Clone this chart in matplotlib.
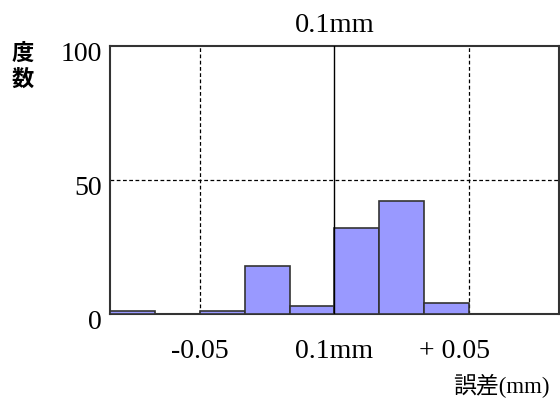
import numpy as np
import matplotlib
matplotlib.use("Agg")
import matplotlib.pyplot as plt
from matplotlib.transforms import ScaledTranslation

# histogram of error, 10 bins, centre = 0.1mm target
counts = [1, 0, 1, 18, 3, 32, 42, 4, 0, 0]
xtick_pos = [2, 5, 7.67]
xtick_labels = ['-0.05', '0.1mm', '+ 0.05']
ytick_vals = [0, 50, 100]

serif = ['Liberation Serif', 'Noto Sans CJK JP']
bar_color = '#9999ff'
edge = '#333333'

fig = plt.figure(figsize=(5.6, 4.01), dpi=100)
ax = fig.add_axes([0.1964, 0.217, 0.8016, 0.668])

x = np.arange(len(counts))
ax.bar(x, counts, width=1.0, align='edge', color=bar_color,
       edgecolor=edge, linewidth=1.2, zorder=3)

ax.set_xlim(0, len(counts))
ax.set_ylim(0, 100)

# reference lines
ax.axhline(50, color='black', linestyle=(0, (3, 2)), linewidth=0.9, zorder=1)
for xv in [2, 8]:
    ax.axvline(xv, color='black', linestyle=(0, (3, 2)), linewidth=0.9, zorder=1)
ax.axvline(5, color='black', linewidth=1.0, zorder=4)

ax.set_xticks(xtick_pos)
ax.set_xticklabels(xtick_labels, family=serif, fontsize=20)
ax.tick_params(axis='x', length=0, pad=18)
ax.set_yticks(ytick_vals)
ax.set_yticklabels([str(v) for v in ytick_vals], family=serif, fontsize=20)
ax.tick_params(axis='y', length=0, pad=6)
shift = ScaledTranslation(0, -4 / 72, fig.dpi_scale_trans)
for lab in ax.get_yticklabels():
    lab.set_transform(lab.get_transform() + shift)

for s in ax.spines.values():
    s.set_color(edge)
    s.set_linewidth(1.5)

ax.set_title('0.1mm', family=serif, fontsize=20.5, pad=10)

fig.text(0.041, 0.895, '度\n数', family=['Noto Sans CJK JP', 'DejaVu Sans'],
         fontsize=16, fontweight='bold', ha='center', va='top', linespacing=1.15)
fig.text(0.982, 0.008, '誤差(mm)', family=serif, fontsize=16.5,
         ha='right', va='bottom')

fig.savefig('out.png', dpi=100)
